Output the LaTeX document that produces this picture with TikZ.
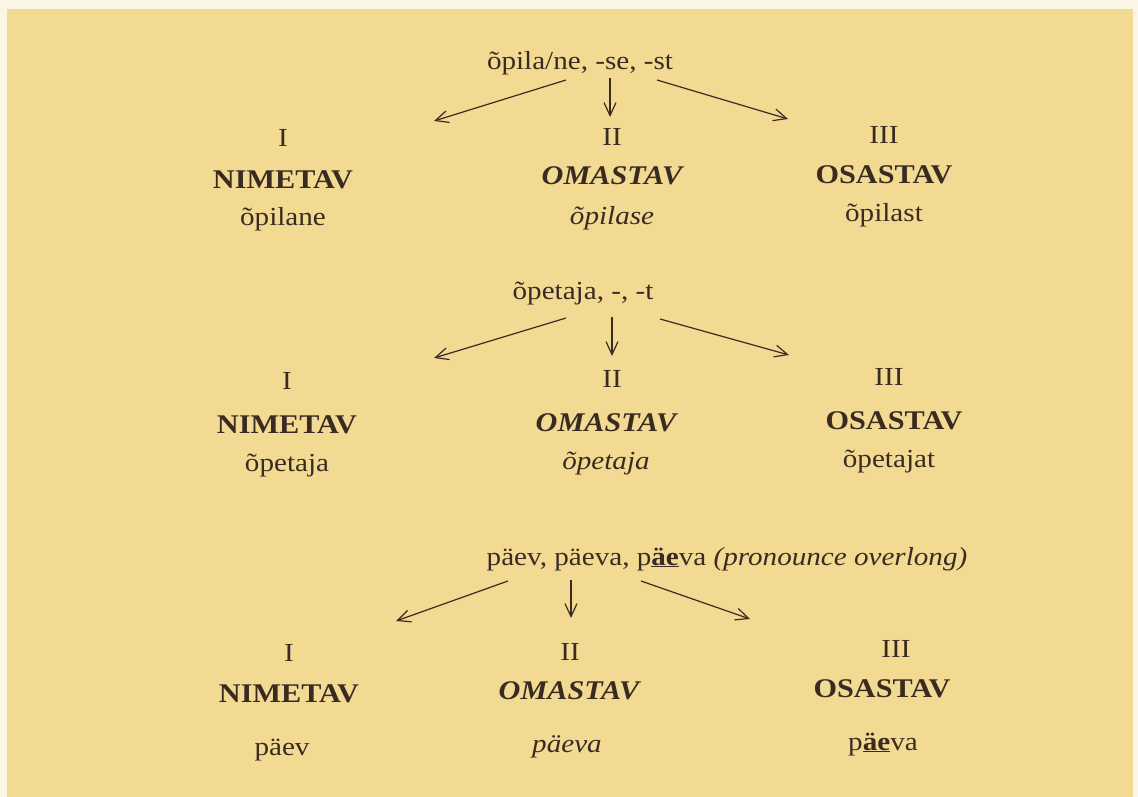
\documentclass[tikz,border=0pt]{standalone}
\usepackage{fontspec}
\setmainfont[FakeStretch=1.12]{Liberation Serif}
\usetikzlibrary{arrows.meta}
\definecolor{paper}{HTML}{F2DA92}
\definecolor{margin}{HTML}{FBF5E6}
\definecolor{ink}{HTML}{3A2B22}
\tikzset{
  txt/.style={anchor=base, inner sep=0pt, text=ink, font=\fontsize{26}{30}\selectfont},
  head/.style={txt},
  num/.style={txt},
  form/.style={txt},
  formi/.style={txt, font=\fontsize{26}{30}\selectfont\itshape},
  case/.style={txt, font=\fontsize{27}{30}\selectfont\bfseries},
  casei/.style={txt, font=\fontsize{27}{30}\selectfont\bfseries\itshape},
  branch/.style={draw=ink, line width=1.2pt, -{Straight Barb[length=13pt,width=12pt]}}
}
\begin{document}
\begin{tikzpicture}[x=1pt,y=-1pt]
% page and coloured sheet
\fill[margin] (0,0) rectangle (1138,797);
\fill[paper] (7,9) rectangle (1133,797);
\useasboundingbox (0,0) rectangle (1138,797);

% --- õpilane ---
\node[head] (h1) at (580,70) {õpila/ne, -se, -st};
\node[num]  (n1a) at (283,147) {I};
\node[case] (c1a) at (283,189) {NIMETAV};
\node[form] (f1a) at (283,225) {õpilane};
\node[num]  (n1b) at (612,146) {II};
\node[casei] (c1b) at (612,185) {OMASTAV};
\node[formi] (f1b) at (612,224) {õpilase};
\node[num]  (n1c) at (884,144) {III};
\node[case] (c1c) at (884,183) {OSASTAV};
\node[form] (f1c) at (884,221) {õpilast};
\coordinate (s1a) at (566,80);  \coordinate (e1a) at (434,121);
\coordinate (s1b) at (610,78);  \coordinate (e1b) at (610,117);
\coordinate (s1c) at (657,80);  \coordinate (e1c) at (788,119);
\draw[branch] (s1a) -- (e1a);
\draw[branch] (s1b) -- (e1b);
\draw[branch] (s1c) -- (e1c);

% --- õpetaja ---
\node[head] (h2) at (583,299) {õpetaja, -, -t};
\node[num]  (n2a) at (287,389) {I};
\node[case] (c2a) at (287,433) {NIMETAV};
\node[form] (f2a) at (287,471) {õpetaja};
\node[num]  (n2b) at (612,387) {II};
\node[casei] (c2b) at (606,431) {OMASTAV};
\node[formi] (f2b) at (606,469) {õpetaja};
\node[num]  (n2c) at (889,385) {III};
\node[case] (c2c) at (894,429) {OSASTAV};
\node[form] (f2c) at (889,467) {õpetajat};
\coordinate (s2a) at (566,318); \coordinate (e2a) at (434,358);
\coordinate (s2b) at (612,317); \coordinate (e2b) at (612,356);
\coordinate (s2c) at (660,319); \coordinate (e2c) at (789,355);
\draw[branch] (s2a) -- (e2a);
\draw[branch] (s2b) -- (e2b);
\draw[branch] (s2c) -- (e2c);

% --- päev ---
\node[head] (h3) at (727,565) {päev, päeva, p\underline{\textbf{äe}}va \textit{(pronounce overlong)}};
\node[num]  (n3a) at (289,661) {I};
\node[case] (c3a) at (289,702) {NIMETAV};
\node[form] (f3a) at (282,755) {päev};
\node[num]  (n3b) at (570,660) {II};
\node[casei] (c3b) at (569,699) {OMASTAV};
\node[formi] (f3b) at (567,752) {päeva};
\node[num]  (n3c) at (896,657) {III};
\node[case] (c3c) at (882,697) {OSASTAV};
\node[form] (f3c) at (883,750) {p\underline{\textbf{äe}}va};
\coordinate (s3a) at (508,581); \coordinate (e3a) at (396,621);
\coordinate (s3b) at (571,580); \coordinate (e3b) at (571,618);
\coordinate (s3c) at (641,581); \coordinate (e3c) at (750,619);
\draw[branch] (s3a) -- (e3a);
\draw[branch] (s3b) -- (e3b);
\draw[branch] (s3c) -- (e3c);
\end{tikzpicture}
\end{document}
